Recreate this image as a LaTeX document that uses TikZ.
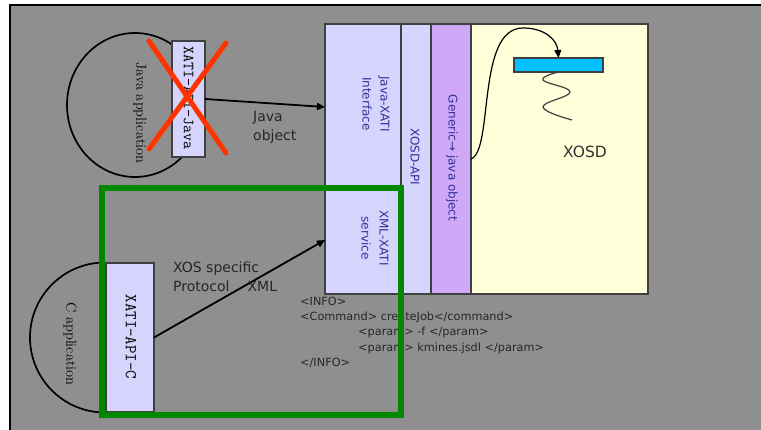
\documentclass[tikz,border=0pt]{standalone}
\usepackage{fontspec}
\newfontfamily\uifont{DejaVu Sans}
\usetikzlibrary{arrows.meta}
\definecolor{canvas}{HTML}{8F8F8F}
\definecolor{lavender}{HTML}{D4D4FC}
\definecolor{lilac}{HTML}{D0A8F8}
\definecolor{cream}{HTML}{FFFFDA}
\definecolor{skyblue}{HTML}{00C0FF}
\definecolor{frameGreen}{HTML}{008800}
\definecolor{crossRed}{HTML}{FF3300}
\definecolor{apiText}{HTML}{333399}
\definecolor{edgeGray}{HTML}{404040}
\tikzset{
  layer/.style={draw=edgeGray, line width=1.2pt, inner sep=0pt, outer sep=0pt},
  apilabel/.style={rotate=-90, align=center, text=apiText, inner sep=0pt,
    font=\uifont\fontsize{12}{18}\selectfont},
  applabel/.style={rotate=-90, inner sep=0pt, font=\rmfamily\fontsize{14.5}{16}\selectfont},
  stublabel/.style={rotate=-90, inner sep=0pt},
  flow/.style={line width=1.8pt, -{Triangle[length=8pt,width=7pt]}},
  note/.style={align=left, inner sep=0pt, text=black!85, font=\uifont\fontsize{14}{19}\selectfont},
  appshape/.style={line width=1.7pt}
}
\begin{document}
\begin{tikzpicture}[x=1pt, y=-1pt]
  % page and canvas
  \useasboundingbox (0,0) rectangle (761,430);
  \fill[white] (0,0) rectangle (761,430);
  \fill[canvas] (10,5) rectangle (761,430);
  \draw[line width=1.5pt] (10,430) -- (10,5) -- (761,5);

  % XOSD stack
  \node[layer, fill=lavender, minimum width=76pt, minimum height=162pt] (jxi) at (363,105) {};
  \node[layer, fill=lavender, minimum width=76pt, minimum height=108pt] (xxs) at (363,240) {};
  \node[layer, fill=lavender, minimum width=30pt, minimum height=270pt] (xapi) at (416,159) {};
  \node[layer, fill=lilac, minimum width=40pt, minimum height=270pt] (gen) at (451,159) {};
  \node[layer, fill=cream, minimum width=177pt, minimum height=270pt] (xosd) at (559.5,159) {};
  \node[layer, fill=skyblue, minimum width=89pt, minimum height=14pt] (bar) at (558.5,65) {};

  \node[apilabel] (jxitxt) at (376,104) {Java-XATI\\Interface};
  \node[apilabel] (xxstxt) at (375,238) {XML-XATI\\service};
  \node[apilabel] (xapitxt) at (415,157) {XOSD-API};
  \node[apilabel] (gentxt) at (452,158) {Generic→ java object};
  \node[inner sep=0pt, text=black!80, font=\uifont\fontsize{15.5}{18}\selectfont] (xosdtxt) at (585,152) {XOSD};

  % call into the display bar
  \draw[line width=1.2pt, -{Triangle[length=8pt,width=7pt]}]
    (gen.east) .. controls (494,150) and (476,28) .. (523,28)
    .. controls (545,28) and (557,40) .. (bar.north);
  \draw[line width=1.2pt, edgeGray] plot[smooth, tension=0.7] coordinates
    {(bar.south) (543,80) (570,92) (543,107) (572,120)};

  % Java application
  \draw[appshape] (135,105) ellipse [x radius=68, y radius=72];
  \node[applabel] (japptxt) at (140,113) {Java application};
  \node[layer, fill=lavender, minimum width=33pt, minimum height=116pt] (japi) at (188.5,99) {};
  \node[stublabel, font=\ttfamily\fontsize{15.5}{18}\selectfont] (japitxt) at (188.5,98) {XATI-API-Java};
  \draw[crossRed, line width=5pt, line cap=round] (149,41) -- (226,153);
  \draw[crossRed, line width=5pt, line cap=round] (226,43) -- (149,149);

  \coordinate (jin) at (325,107);
  \draw[flow] (japi.east) -- (jin);
  \node[note, anchor=west] (jobj) at (253,127.5) {Java\\object};

  % C application
  \draw[appshape] (105,412.5) arc[start angle=90, end angle=270, x radius=75, y radius=75];
  \node[applabel] (capptxt) at (70,344) {C application};
  \node[layer, fill=lavender, minimum width=48pt, minimum height=149pt] (capi) at (130,337.5) {};
  \node[stublabel, font=\ttfamily\fontsize{16.5}{18}\selectfont] (capitxt) at (131,337) {XATI-API-C};

  \draw[flow] (capi.east) -- (xxs.west);
  \node[note, anchor=west] (proto) at (173,277) {XOS specific\\Protocol\hspace{18pt}XML};

  % request payload
  \node[align=left, inner sep=0pt, anchor=north west, text=black!85,
        font=\uifont\fontsize{11.3}{15.2}\selectfont] (payload) at (300,297)
    {<INFO>\\
     <Command> createJob</command>\\
     \hspace*{58pt}<param> -f </param>\\
     \hspace*{58pt}<param> kmines.jsdl </param>\\
     </INFO>};

  % C binding scope
  \node[draw=frameGreen, line width=5.5pt, inner sep=0pt, minimum width=299pt,
        minimum height=227pt] (scope) at (251.5,301.5) {};
\end{tikzpicture}
\end{document}
